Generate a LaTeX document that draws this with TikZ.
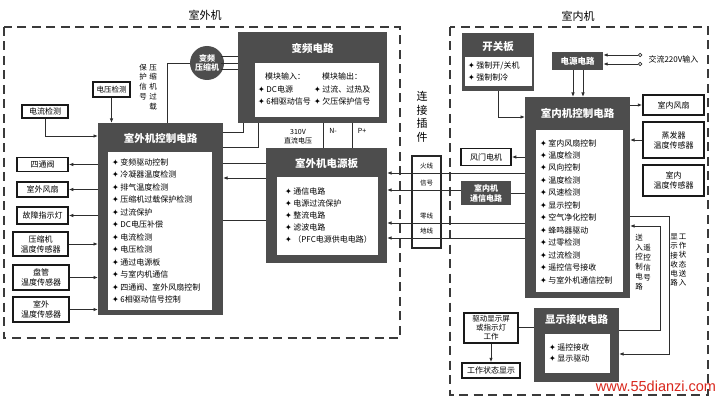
\documentclass[tikz,border=0pt]{standalone}
\usepackage{fontspec}
\setmainfont{Noto Sans CJK SC}
\newfontfamily\symfont{DejaVu Sans}
\newfontfamily\webfont{Liberation Sans}
\usetikzlibrary{arrows.meta, positioning, calc}
\definecolor{frameGray}{HTML}{4D4D4D}
\definecolor{lineGray}{HTML}{2E2E2E}
\definecolor{dashGray}{HTML}{3A3A3A}
\definecolor{markRed}{HTML}{D9261C}
\newcommand{\itembul}{{\symfont ✦}\hspace{1.5pt}}

\begin{document}
\begin{tikzpicture}[
    x=1pt, y=-1pt,
    font=\fontsize{8}{10}\selectfont,
    % Dashed outline of a unit
    unit/.style={draw=dashGray, line width=1.6pt, dash pattern=on 9pt off 5.5pt},
    % Dark frame of a circuit block
    frame/.style={rectangle, fill=frameGray, inner sep=0pt, outer sep=0pt},
    % White panel inside a frame
    panel/.style={rectangle, fill=white, inner sep=0pt, outer sep=0pt},
    % Block title
    head/.style={text=white, inner sep=0pt, font=\fontsize{10.5}{12}\selectfont\bfseries},
    % List entries
    item/.style={anchor=west, inner sep=0pt, font=\fontsize{8}{10}\selectfont},
    % Plain outlined boxes
    part/.style={rectangle, draw=black!90, line width=1.5pt, fill=white, align=center, inner sep=0pt, font=\fontsize{8}{10}\selectfont},
    % Dark filled small boxes
    darkpart/.style={rectangle, fill=frameGray, text=white, align=center, inner sep=0pt, font=\fontsize{8}{10}\selectfont\bfseries},
    % Vertical text columns
    vtext/.style={align=center, inner sep=0pt, font=\fontsize{7.5}{9.8}\selectfont},
    plugtext/.style={fill=white, inner sep=0.5pt, font=\fontsize{6.5}{7}\selectfont},
    wire/.style={draw=lineGray, line width=0.9pt},
    arrow/.style={wire, -{Latex[length=4.5pt, width=3.5pt]}}
]
\fill[white] (0,0) rectangle (725,401);
\useasboundingbox (0,0) rectangle (725,401);

% --- OUTDOOR UNIT ---
\draw[unit] (4,27) rectangle (400,338);
\node[font=\fontsize{11}{12}\selectfont] (outTitle) at (205,15) {室外机};

% Control board
\node[frame, minimum width=125, minimum height=192] (odc) at (160.5,219) {};
\node[panel, minimum width=104, minimum height=158] (odcPanel) at (160,231) {};
\node[head] (odcHead) at (160.5,138) {室外机控制电路};
\foreach \txt [count=\i] in {变频驱动控制, 冷凝器温度检测, 排气温度检测, 压缩机过载保护检测, 过流保护, DC电压补偿, 电流检测, 电压检测, 通过电源板, 与室内机通信, 四通阀、室外风扇控制, 6相驱动信号控制}
    \node[item] (odcItem\i) at (112, {162+(\i-1)*12.5}) {\itembul\txt};

% Inverter circuit
\node[frame, minimum width=149, minimum height=91] (vfd) at (312.5,77.5) {};
\node[panel, minimum width=124, minimum height=54] (vfdPanel) at (317,90) {};
\node[head] (vfdHead) at (312.5,48) {变频电路};
\node[item, anchor=center] (vfdIn) at (285,76) {模块输入：};
\node[item, anchor=center] (vfdOut) at (342,76) {模块输出：};
\node[item] (vfdIn1) at (258,89) {\itembul DC电源};
\node[item] (vfdIn2) at (258,101) {\itembul 6相驱动信号};
\node[item] (vfdOut1) at (314,89) {\itembul 过流、过热及};
\node[item] (vfdOut2) at (314,101) {\itembul 欠压保护信号};

% Compressor
\node[circle, fill=frameGray, minimum size=34, inner sep=0pt, text=white, align=center, font=\fontsize{8}{9}\selectfont\bfseries] (comp) at (207,63) {变频\\压缩机};
\foreach \dy in {-6.5,0,6.5}
    \draw[wire] ($(comp.center)+(14,\dy)$) coordinate (compTap) -- (compTap -| vfd.west);
\draw[wire] (comp.west) -| (odc.north -| 167,0);
\node[vtext] (protL) at (143,82) {保\\护\\信\\号};
\node[vtext] (protR) at (153,87) {压\\缩\\机\\过\\载};

% Detection and peripheral parts
\node[part, minimum width=37, minimum height=15, font=\fontsize{7.5}{9}\selectfont] (vol) at (111.5,89.5) {电压检测};
\node[part, minimum width=46, minimum height=13] (cur) at (45,111.5) {电流检测};
\draw[arrow] (vol.south) -- (vol.south |- odc.north);
\draw[arrow] (cur.south) |- (odc.west |- 0,136);

\node[part, minimum width=51, minimum height=14] (valve) at (42.5,164.5) {四通阀};
\node[part, minimum width=51, minimum height=15] (ofan) at (42.5,189.5) {室外风扇};
\node[part, minimum width=51, minimum height=17] (lamp) at (42.5,215.5) {故障指示灯};
\node[part, minimum width=55, minimum height=24] (cts) at (40.5,244) {压缩机\\温度传感器};
\node[part, minimum width=56, minimum height=25] (pts) at (41,277.5) {盘管\\温度传感器};
\node[part, minimum width=56, minimum height=25] (ots) at (41,309.5) {室外\\温度传感器};
\foreach \n in {valve, ofan, lamp}
    \draw[arrow] (odc.west |- \n.east) -- (\n.east);
\foreach \n in {cts, pts, ots}
    \draw[arrow] (\n.east) -- (\n.east -| odc.west);

% Outdoor power board
\node[frame, minimum width=121, minimum height=115] (psb) at (326.5,205.5) {};
\node[panel, minimum width=101, minimum height=78] (psbPanel) at (327.5,216) {};
\node[head] (psbHead) at (326.5,163) {室外机电源板};
\foreach \txt [count=\i] in {通信电路, 电源过流保护, 整流电路, 滤波电路, （PFC电源供电电路）}
    \node[item] (psbItem\i) at (285, {191+(\i-1)*12}) {\itembul\txt};

% Links inside the outdoor unit
\draw[wire] (odc.east |- 0,132) -| (vfd.south -| 243,0);
\draw[wire] (odc.east |- 0,147) -| (vfd.south -| 258,0);
\draw[wire] (psb.north -| 323,0) -- (vfd.south -| 323,0);
\draw[wire] (psb.north -| 352,0) -- (vfd.south -| 352,0);
\node[vtext, font=\fontsize{7}{8.5}\selectfont] (dcText) at (298,136.5) {310V\\直流电压};
\node[vtext, font=\fontsize{7}{8.5}\selectfont] (nText) at (333,131) {N-};
\node[vtext, font=\fontsize{7}{8.5}\selectfont] (pText) at (362,131) {P+};
\draw[wire] (odc.east |- 0,163) -- (psb.west |- 0,163);
\draw[arrow] (psb.west |- 0,178) -- (odc.east |- 0,178);
\draw[wire] (odc.east |- 0,220) -- (psb.west |- 0,220);

% --- INDOOR UNIT ---
\draw[unit] (450,27) rectangle (708,395);
\node[font=\fontsize{11}{12}\selectfont] (inTitle) at (578,16) {室内机};

% Switch board
\node[frame, minimum width=72, minimum height=58] (swb) at (498,62) {};
\node[panel, minimum width=67, minimum height=29] (swbPanel) at (498.5,71.5) {};
\node[head] (swbHead) at (498,46.5) {开关板};
\node[item] (swbItem1) at (468,66) {\itembul 强制开/关机};
\node[item] (swbItem2) at (468,77) {\itembul 强制制冷};

% Power supply
\node[darkpart, minimum width=51, minimum height=18, font=\fontsize{8.5}{10}\selectfont\bfseries] (pwr) at (577.5,61) {电源电路};
\node[circle, draw=lineGray, line width=0.7pt, fill=white, minimum size=3.5, inner sep=0pt] (acL) at (640,55) {};
\node[circle, draw=lineGray, line width=0.7pt, fill=white, minimum size=3.5, inner sep=0pt] (acN) at (640,64) {};
\node[anchor=west] (acText) at (645,59.5) {交流220V输入};
\draw[arrow] (acL.west) -- (acL.west -| pwr.east);
\draw[arrow] (acN.west) -- (acN.west -| pwr.east);

% Indoor control board
\node[frame, minimum width=105, minimum height=201] (idc) at (577.5,197.5) {};
\node[panel, minimum width=87, minimum height=162] (idcPanel) at (579.5,211) {};
\node[head] (idcHead) at (577.5,113) {室内机控制电路};
\foreach \txt [count=\i] in {室内风扇控制, 温度检测, 风向控制, 温度检测, 风速检测, 显示控制, 空气净化控制, 蜂鸣器驱动, 过零检测, 过流检测, 遥控信号接收, 与室外机通信控制}
    \node[item] (idcItem\i) at (540, {143+(\i-1)*12.45}) {\itembul\txt};

\draw[arrow] (swb.south) |- (idc.west |- 0,117);
\draw[arrow] (pwr.south -| 573,0) -- (idc.north -| 573,0);
\draw[arrow] (pwr.south -| 583,0) -- (idc.north -| 583,0);

% Parts around the indoor control board
\node[part, minimum width=61, minimum height=20] (ifan) at (673.5,105) {室内风扇};
\node[part, minimum width=61, minimum height=36] (evs) at (673.5,140) {蒸发器\\温度传感器};
\node[part, minimum width=61, minimum height=31] (its) at (673.5,180.5) {室内\\温度传感器};
\node[part, minimum width=50, minimum height=17] (damp) at (486,157) {风门电机};
\node[darkpart, minimum width=50, minimum height=24] (icc) at (486,193) {室内机\\通信电路};
\draw[arrow] (idc.east |- ifan.west) -- (ifan.west);
\draw[arrow] (evs.west) -- (evs.west -| idc.east);
\draw[arrow] (idc.west |- damp.east) -- (damp.east);
\draw[wire] (icc.east) -- (icc.east -| idc.west);

% Display receiver
\node[frame, minimum width=85, minimum height=74] (drc) at (576.5,345) {};
\node[panel, minimum width=65, minimum height=39] (drcPanel) at (577.5,353.5) {};
\node[head] (drcHead) at (576.5,320) {显示接收电路};
\node[item] (drcItem1) at (549,347) {\itembul 遥控接收};
\node[item] (drcItem2) at (549,359) {\itembul 显示驱动};
\node[part, minimum width=54, minimum height=30, font=\fontsize{7.5}{8.8}\selectfont] (drv) at (491,328) {驱动显示屏\\或指示灯\\工作};
\node[part, minimum width=58, minimum height=15] (sts) at (491,370.5) {工作状态显示};
\draw[wire] (drc.west |- 0,327) -- (drv.east |- 0,327);
\draw[arrow] (drv.south) -- (sts.north);

\coordinate (rcBend) at (660,226);
\coordinate (stBend) at (669,354);
\draw[arrow] (drc.east |- 0,330) -| (rcBend) -- (idc.east |- rcBend);
\draw[arrow] (idc.east |- 0,216) -| (stBend) -- (drc.east |- stBend);
\node[vtext] (rcL) at (639,262) {送\\入\\控\\制\\电\\路};
\node[vtext] (rcR) at (647,262.5) {遥\\控\\信\\号};
\node[vtext, font=\fontsize{7.5}{9.2}\selectfont] (stL) at (674,260) {显\\示\\接\\收\\电\\路};
\node[vtext, font=\fontsize{7.5}{9.2}\selectfont] (stR) at (682.5,260) {工\\作\\状\\态\\送\\入};

% --- CONNECTOR BETWEEN UNITS ---
\node[vtext, font=\fontsize{11}{13.5}\selectfont] (plugTitle) at (422,117) {连\\接\\插\\件};
\node[draw=black!85, line width=1.2pt, minimum width=29, minimum height=92, inner sep=0pt] (plug) at (426.5,202) {};
\draw[arrow] (idc.west |- 0,173) -- (psb.east |- 0,173);
\draw[arrow] (icc.west |- 0,190) -- (psb.east |- 0,190);
\draw[arrow] (idc.west |- 0,223) -- (psb.east |- 0,223);
\draw[arrow] (idc.west |- 0,238) -- (psb.east |- 0,238);
\node[plugtext] (plugL) at (426.5,166.5) {火线};
\node[plugtext] (plugS) at (426.5,183.5) {信号};
\node[plugtext] (plugN) at (426.5,216.5) {零线};
\node[plugtext] (plugE) at (426.5,231.5) {地线};

\node[text=markRed, font=\webfont\fontsize{14.5}{15}\selectfont, inner sep=0pt] (mark) at (656,386) {www.55dianzi.com};
\end{tikzpicture}
\end{document}
